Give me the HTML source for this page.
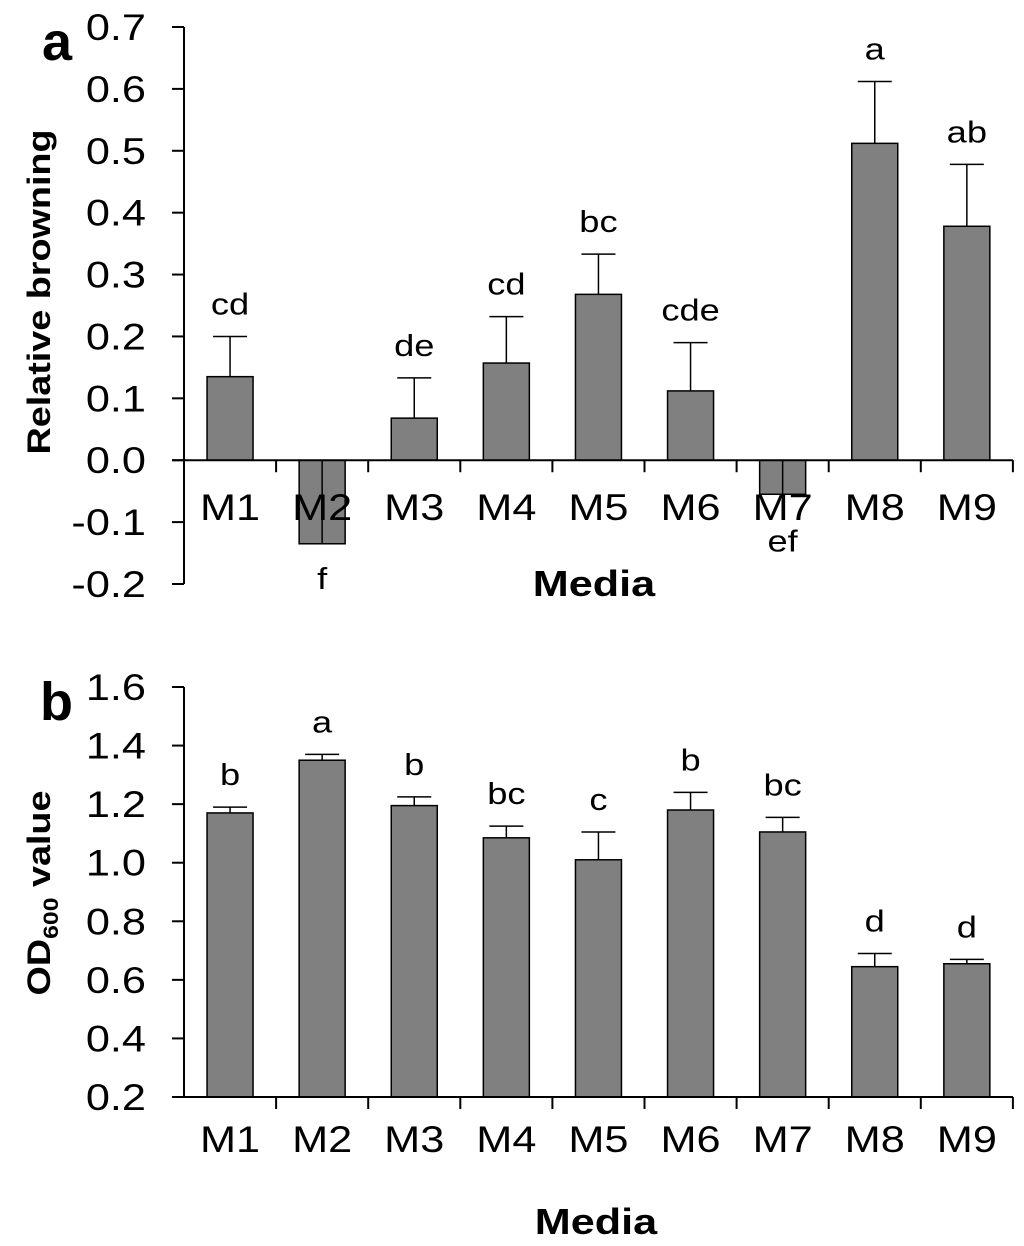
<!DOCTYPE html>
<html><head><meta charset="utf-8"><style>
body{margin:0;background:#fff;}
svg{display:block;font-family:"Liberation Sans",Arial,sans-serif;}
</style></head><body>
<svg id="c" width="1024" height="1246" viewBox="0 0 1024 1246"></svg>
<script>
const categories=["M1","M2","M3","M4","M5","M6","M7","M8","M9"];
const browning=[0.135,-0.135,0.068,0.157,0.268,0.112,-0.055,0.512,0.378];
const browningErr=[0.065,0,0.065,0.075,0.065,0.078,0.02,0.1,0.1];
const browningLetters=["cd","f","de","cd","bc","cde","ef","a","ab"];
const browningTicks=[-0.2,-0.1,0.0,0.1,0.2,0.3,0.4,0.5,0.6,0.7];
const od=[1.17,1.35,1.195,1.085,1.01,1.18,1.105,0.645,0.655];
const odErr=[0.02,0.02,0.03,0.04,0.095,0.06,0.05,0.045,0.015];
const odLetters=["b","a","b","bc","c","b","bc","d","d"];
const odTicks=[0.2,0.4,0.6,0.8,1.0,1.2,1.4,1.6];

const svg=document.getElementById('c');
const NS='http://www.w3.org/2000/svg';
const SX=1.17;
function mk(tag,attrs,parent,text){const e=document.createElementNS(NS,tag);for(const k in attrs)e.setAttribute(k,attrs[k]);if(text!==undefined)e.textContent=text;(parent||svg).appendChild(e);return e;}
function txt(x,y,size,anchor,s,parent,bold){
  const t=mk('text',{x:x/SX,y:y,'font-size':size,'text-anchor':anchor,transform:'scale('+SX+',1)'},parent,s);
  if(bold)t.setAttribute('font-weight','bold');
  return t;
}
const X0=184,CW=92.1,BW=46;
const xC=i=>X0+CW*(i+0.5);

function panel(p){
  const g=mk('g',{});
  
  
  const y=v=>p.y0+(v-p.ymin)/(p.ymax-p.ymin)*(p.y1-p.y0);
  const base=y(p.base);
  p.vals.forEach((v,i)=>{
    const top=y(v),x=xC(i)-BW/2;
    const r=mk('rect',{x:x,y:Math.min(top,base),width:BW,height:Math.abs(top-base),fill:'#808080',stroke:'#000','stroke-width':1.5},g);
    
    
    let ly;
    if(v>=0){
      const ey=y(v+p.err[i]);
      const l=mk('line',{x1:xC(i),x2:xC(i),y1:top,y2:ey,stroke:'#000','stroke-width':1.5},g);
      
      
      mk('line',{x1:xC(i)-BW/2+6,x2:xC(i)+BW/2-6,y1:ey,y2:ey,stroke:'#000','stroke-width':1.5},g);
      ly=ey-22;
    }else{
      const l=mk('line',{x1:xC(i),x2:xC(i),y1:base,y2:top,stroke:'#000','stroke-width':1.5},g);
      
      
      ly=y(v-p.err[i])+45;
    }
    const t=txt(xC(i),ly,31,'middle',p.letters[i],g);
    
    
    const cl=txt(xC(i),p.catY,37,'middle',categories[i],g);
    
    
  });
  mk('line',{x1:X0,x2:X0,y1:y(p.ymax),y2:y(p.ymin),stroke:'#000','stroke-width':2},g);
  mk('line',{x1:X0-12,x2:X0+CW*9,y1:base,y2:base,stroke:'#000','stroke-width':2},g);
  for(let i=1;i<=9;i++)mk('line',{x1:X0+CW*i,x2:X0+CW*i,y1:base,y2:base+12,stroke:'#000','stroke-width':2},g);
  p.ticks.forEach(t=>{
    mk('line',{x1:X0-12,x2:X0,y1:y(t),y2:y(t),stroke:'#000','stroke-width':2},g);
    const tl=txt(X0-38,y(t)+13,37,'end',t.toFixed(1),g);
    
    
  });
  return g;
}
panel({name:'chart-a-relative-browning',vals:browning,err:browningErr,letters:browningLetters,ticks:browningTicks,ymin:-0.2,ymax:0.7,y0:584,y1:27,base:0,catY:520});
panel({name:'chart-b-od600',vals:od,err:odErr,letters:odLetters,ticks:odTicks,ymin:0.2,ymax:1.6,y0:1097,y1:687,base:0.2,catY:1152});

function label(a,html,name){const e=document.createElementNS(NS,'text');for(const k in a)e.setAttribute(k,a[k]);e.innerHTML=html;


svg.appendChild(e);}
label({x:42,y:60,'font-size':54,'font-weight':'bold'},'a','panel-label-a');
label({x:40,y:720,'font-size':54,'font-weight':'bold'},'b','panel-label-b');
label({x:594/1.2,y:596,'font-size':36,'font-weight':'bold','text-anchor':'middle',transform:'scale(1.2,1)'},'Media','x-axis-title-a');
label({x:596/1.2,y:1234,'font-size':36,'font-weight':'bold','text-anchor':'middle',transform:'scale(1.2,1)'},'Media','x-axis-title-b');
label({x:0,y:0,'font-size':32,'font-weight':'bold','text-anchor':'middle',transform:'translate(50,292) rotate(-90) scale(1.18,1)'},'Relative browning','y-axis-title-a');
label({x:0,y:0,'font-size':32,'font-weight':'bold','text-anchor':'middle',transform:'translate(50,893) rotate(-90) scale(1.18,1)'},'OD<tspan font-size="21" dy="8">600</tspan><tspan dy="-8"> value</tspan>','y-axis-title-b');
</script>
</body></html>
